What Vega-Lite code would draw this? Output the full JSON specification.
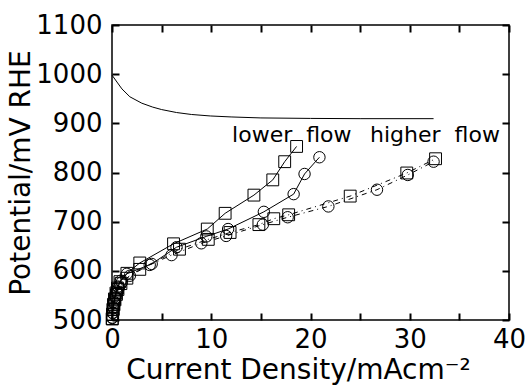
{
  "$schema": "https://vega.github.io/schema/vega-lite/v6.json",
  "autosize": {"type": "none"},
  "width": 397,
  "height": 295,
  "padding": {"left": 112, "top": 25, "right": 19, "bottom": 65},
  "background": "white",
  "config": {
    "view": {"stroke": "black", "strokeWidth": 1.5},
    "axis": {"domain": false, "grid": false, "ticks": true, "zindex": 1, "tickColor": "black", "tickWidth": 2, "labelColor": "black", "titleColor": "black", "labelFont": "DejaVu Sans", "titleFont": "DejaVu Sans", "titleFontWeight": "normal"}
  },
  "datasets": {
    "pts": [
      {"J": 0, "V": 998, "s": "curve"}, {"J": 0.5, "V": 984, "s": "curve"}, {"J": 1, "V": 970, "s": "curve"}, {"J": 1.8, "V": 954, "s": "curve"}, {"J": 3, "V": 941, "s": "curve"}, {"J": 4.1, "V": 933, "s": "curve"}, {"J": 5, "V": 928, "s": "curve"}, {"J": 6.5, "V": 922, "s": "curve"}, {"J": 8, "V": 918, "s": "curve"}, {"J": 9.9, "V": 915, "s": "curve"}, {"J": 12, "V": 913, "s": "curve"}, {"J": 15, "V": 911, "s": "curve"}, {"J": 20, "V": 910, "s": "curve"}, {"J": 25, "V": 909.5, "s": "curve"}, {"J": 32.4, "V": 909.5, "s": "curve"},

      {"J": 0.02, "V": 503, "s": "lo_sq"}, {"J": 0.05, "V": 512, "s": "lo_sq"}, {"J": 0.1, "V": 522, "s": "lo_sq"}, {"J": 0.15, "V": 532, "s": "lo_sq"}, {"J": 0.25, "V": 543, "s": "lo_sq"}, {"J": 0.4, "V": 555, "s": "lo_sq"}, {"J": 0.55, "V": 565, "s": "lo_sq"}, {"J": 0.8, "V": 578, "s": "lo_sq"}, {"J": 1.5, "V": 595, "s": "lo_sq"}, {"J": 2.8, "V": 616, "s": "lo_sq"}, {"J": 6.2, "V": 655, "s": "lo_sq"}, {"J": 9.6, "V": 685, "s": "lo_sq"}, {"J": 11.4, "V": 717, "s": "lo_sq"}, {"J": 14.3, "V": 754, "s": "lo_sq"}, {"J": 16.2, "V": 785, "s": "lo_sq"}, {"J": 17.4, "V": 822, "s": "lo_sq"}, {"J": 18.6, "V": 853, "s": "lo_sq"},

      {"J": 0.02, "V": 505, "s": "lo_ci"}, {"J": 0.06, "V": 515, "s": "lo_ci"}, {"J": 0.12, "V": 526, "s": "lo_ci"}, {"J": 0.2, "V": 537, "s": "lo_ci"}, {"J": 0.3, "V": 548, "s": "lo_ci"}, {"J": 0.45, "V": 558, "s": "lo_ci"}, {"J": 0.6, "V": 568, "s": "lo_ci"}, {"J": 0.9, "V": 580, "s": "lo_ci"}, {"J": 1.5, "V": 594, "s": "lo_ci"}, {"J": 4.0, "V": 614, "s": "lo_ci"}, {"J": 6.5, "V": 648, "s": "lo_ci"}, {"J": 9.5, "V": 670, "s": "lo_ci"}, {"J": 11.7, "V": 685, "s": "lo_ci"}, {"J": 15.3, "V": 720, "s": "lo_ci"}, {"J": 18.3, "V": 756, "s": "lo_ci"}, {"J": 19.4, "V": 797, "s": "lo_ci"}, {"J": 20.9, "V": 831, "s": "lo_ci"},

      {"J": 0.03, "V": 502, "s": "hi_sq"}, {"J": 0.07, "V": 511, "s": "hi_sq"}, {"J": 0.12, "V": 521, "s": "hi_sq"}, {"J": 0.2, "V": 531, "s": "hi_sq"}, {"J": 0.3, "V": 541, "s": "hi_sq"}, {"J": 0.45, "V": 552, "s": "hi_sq"}, {"J": 0.6, "V": 562, "s": "hi_sq"}, {"J": 0.9, "V": 574, "s": "hi_sq"}, {"J": 1.5, "V": 585, "s": "hi_sq"}, {"J": 2.8, "V": 603, "s": "hi_sq"}, {"J": 6.8, "V": 644, "s": "hi_sq"}, {"J": 9.7, "V": 664, "s": "hi_sq"}, {"J": 11.9, "V": 678, "s": "hi_sq"}, {"J": 14.8, "V": 694, "s": "hi_sq"}, {"J": 16.3, "V": 706, "s": "hi_sq"}, {"J": 17.8, "V": 714, "s": "hi_sq"}, {"J": 24.0, "V": 752, "s": "hi_sq"}, {"J": 29.7, "V": 799, "s": "hi_sq"}, {"J": 32.6, "V": 828, "s": "hi_sq"},

      {"J": 0.03, "V": 504, "s": "hi_ci"}, {"J": 0.08, "V": 514, "s": "hi_ci"}, {"J": 0.14, "V": 524, "s": "hi_ci"}, {"J": 0.22, "V": 534, "s": "hi_ci"}, {"J": 0.33, "V": 545, "s": "hi_ci"}, {"J": 0.5, "V": 555, "s": "hi_ci"}, {"J": 0.7, "V": 566, "s": "hi_ci"}, {"J": 1.0, "V": 577, "s": "hi_ci"}, {"J": 1.8, "V": 590, "s": "hi_ci"}, {"J": 3.8, "V": 612, "s": "hi_ci"}, {"J": 6.0, "V": 632, "s": "hi_ci"}, {"J": 9.0, "V": 656, "s": "hi_ci"}, {"J": 11.5, "V": 671, "s": "hi_ci"}, {"J": 15.2, "V": 694, "s": "hi_ci"}, {"J": 17.7, "V": 709, "s": "hi_ci"}, {"J": 21.8, "V": 731, "s": "hi_ci"}, {"J": 26.7, "V": 765, "s": "hi_ci"}, {"J": 29.8, "V": 795, "s": "hi_ci"}, {"J": 32.4, "V": 822, "s": "hi_ci"}
    ],
    "labels": [
      {"J": 12.1, "V": 862, "t": "lower \u00a0flow"},
      {"J": 26.0, "V": 862, "t": "higher \u00a0flow"}
    ]
  },
  "layer": [
    {
      "data": {"name": "pts"},
      "transform": [{"filter": "datum.s == 'curve'"}],
      "mark": {"type": "line", "color": "black", "strokeWidth": 1},
      "encoding": {
        "x": {
          "field": "J", "type": "quantitative",
          "scale": {"domain": [0, 40], "nice": false, "zero": false},
          "axis": {
            "orient": "bottom",
            "offset": -7,
            "values": [0, 5, 10, 15, 20, 25, 30, 35, 40],
            "labelExpr": "datum.value % 10 == 0 ? datum.label : ''",
            "tickSize": 7,
            "labelPadding": 6,
            "labelFontSize": 26,
            "labelFlush": false,
            "title": "Current Density/mAcm⁻²",
            "titleFontSize": 28,
            "titlePadding": 4,
            "titleX": 186
          }
        },
        "y": {
          "field": "V", "type": "quantitative",
          "scale": {"domain": [500, 1100], "nice": false, "zero": false},
          "axis": {
            "orient": "left",
            "offset": -7,
            "format": "d",
            "values": [500, 600, 700, 800, 900, 1000, 1100],
            "tickSize": 7,
            "labelPadding": 10,
            "labelFontSize": 26,
            "labelFlush": false,
            "title": "Potential/mV RHE",
            "titleFontSize": 28,
            "titlePadding": 0
          }
        }
      }
    },
    {
      "data": {"name": "pts"},
      "transform": [{"filter": "datum.s == 'lo_sq' || datum.s == 'lo_ci'"}],
      "mark": {"type": "line", "color": "black", "strokeWidth": 1},
      "encoding": {
        "x": {"field": "J", "type": "quantitative", "axis": null},
        "y": {"field": "V", "type": "quantitative", "axis": null},
        "detail": {"field": "s"}
      }
    },
    {
      "data": {"name": "pts"},
      "transform": [{"filter": "datum.s == 'hi_sq' || datum.s == 'hi_ci'"}],
      "mark": {"type": "line", "color": "black", "strokeWidth": 1, "strokeDash": [5, 4, 1, 4]},
      "encoding": {
        "x": {"field": "J", "type": "quantitative", "axis": null},
        "y": {"field": "V", "type": "quantitative", "axis": null},
        "detail": {"field": "s"}
      }
    },
    {
      "data": {"name": "pts"},
      "transform": [{"filter": "datum.s == 'lo_sq' || datum.s == 'hi_sq'"}],
      "mark": {"type": "point", "shape": "square", "filled": false, "color": "black", "strokeWidth": 1, "size": 140, "opacity": 1},
      "encoding": {
        "x": {"field": "J", "type": "quantitative", "axis": null},
        "y": {"field": "V", "type": "quantitative", "axis": null}
      }
    },
    {
      "data": {"name": "pts"},
      "transform": [{"filter": "datum.s == 'lo_ci' || datum.s == 'hi_ci'"}],
      "mark": {"type": "point", "shape": "circle", "filled": false, "color": "black", "strokeWidth": 1, "size": 130, "opacity": 1},
      "encoding": {
        "x": {"field": "J", "type": "quantitative", "axis": null},
        "y": {"field": "V", "type": "quantitative", "axis": null}
      }
    },
    {
      "data": {"name": "labels"},
      "mark": {"type": "text", "align": "left", "baseline": "alphabetic", "font": "DejaVu Sans", "fontSize": 22, "color": "black"},
      "encoding": {
        "x": {"field": "J", "type": "quantitative", "axis": null},
        "y": {"field": "V", "type": "quantitative", "axis": null},
        "text": {"field": "t"}
      }
    },
    {
      "data": {"name": "pts"},
      "mark": {"type": "point", "opacity": 0},
      "encoding": {
        "x": {
          "field": "J", "type": "quantitative",
          "axis": {"orient": "top", "offset": -7, "values": [0, 5, 10, 15, 20, 25, 30, 35, 40], "labels": false, "title": null, "tickSize": 7}
        },
        "y": {
          "field": "V", "type": "quantitative",
          "axis": {"orient": "right", "offset": -7, "values": [500, 600, 700, 800, 900, 1000, 1100], "labels": false, "title": null, "tickSize": 7}
        }
      }
    }
  ],
  "resolve": {"axis": {"x": "independent", "y": "independent"}}
}
